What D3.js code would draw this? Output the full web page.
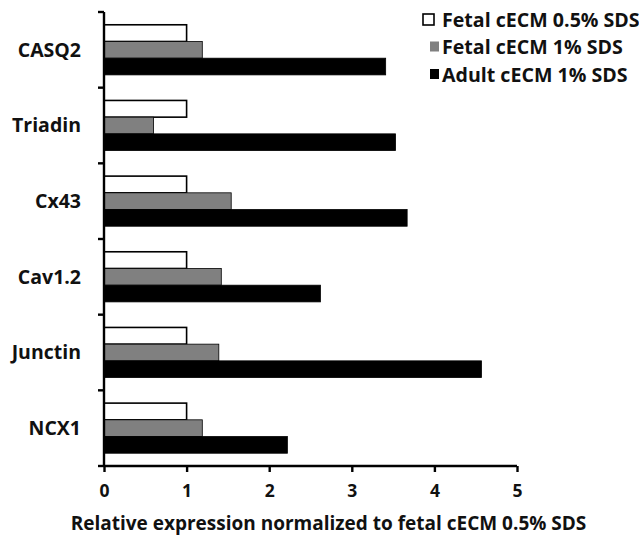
<!DOCTYPE html>
<html><head><meta charset="utf-8">
<script src="https://cdn.jsdelivr.net/npm/d3@7"></script>
<style>body{margin:0;background:#fff}svg{display:block}text{font-family:"Open Sans",Lato,sans-serif;font-weight:bold;fill:#111}</style>
</head><body>
<script>
const categories = ["CASQ2","Triadin","Cx43","Cav1.2","Junctin","NCX1"];
const seriesNames = ["Fetal cECM 0.5% SDS","Fetal cECM 1% SDS","Adult cECM 1% SDS"];
const fetal05 = [1.0, 1.0, 1.0, 1.0, 1.0, 1.0];
const fetal1 = [1.19, 0.60, 1.54, 1.42, 1.39, 1.19];
const adult1 = [3.41, 3.53, 3.67, 2.62, 4.57, 2.22];
const xTicks = [0,1,2,3,4,5];
const seriesColors = ["#ffffff","#808080","#000000"];
const xLabel = "Relative expression normalized to fetal cECM 0.5% SDS";

const W=639,H=537, m={left:104,top:12,right:122,bottom:71};
const svg=d3.select("body").append("svg").attr("width",W).attr("height",H);
const x=d3.scaleLinear().domain([0,5]).range([m.left,W-m.right]);
const y=d3.scaleBand().domain(categories).range([m.top,H-m.bottom]).padding(0);
const ys=d3.scaleBand().domain(d3.range(3)).range([0,y.bandwidth()]).paddingInner(0).paddingOuter(0.765);
const seriesVals=[fetal05,fetal1,adult1];

const g=svg.append("g");
categories.forEach((c,i)=>{
  seriesVals.forEach((vals,s)=>{
    g.append("rect")
     .attr("x",x(0)).attr("y",y(c)+ys(s))
     .attr("width",x(vals[i])-x(0)).attr("height",ys.bandwidth())
     .attr("fill",seriesColors[s])
     .attr("stroke","#000").attr("stroke-width",s===0?1.6:0.8);
  });
});

// y axis
const yAxisG=svg.append("g");
yAxisG.append("line").attr("x1",x(0)).attr("x2",x(0)).attr("y1",y.range()[0]).attr("y2",y.range()[1]).attr("stroke","#000").attr("stroke-width",2.4);
const bounds=categories.map(c=>y(c)).concat([y.range()[1]]);
bounds.forEach(b=>yAxisG.append("line").attr("x1",x(0)-6).attr("x2",x(0)).attr("y1",b).attr("y2",b).attr("stroke","#000").attr("stroke-width",2.4));
categories.forEach(c=>yAxisG.append("text").attr("x",81).attr("y",y(c)+y.bandwidth()/2).attr("dy","0.35em").attr("text-anchor","end").style("font-size","19.5px").text(c));

// x axis
const xAxis=d3.axisBottom(x).tickValues(xTicks).tickSize(6).tickFormat(d3.format("d"));
const xg=svg.append("g").attr("transform",`translate(0,${H-m.bottom})`).call(xAxis);
xg.select(".domain").attr("stroke","#000").attr("stroke-width",2.4).attr("d",`M${x(0)},0H${x(5)}`);
xg.selectAll(".tick line").attr("stroke","#000").attr("stroke-width",2.4);
xg.selectAll(".tick text").attr("y",19).style("font-size","17.5px").style("font-family","Open Sans").style("font-weight","bold").attr("fill","#111");

svg.append("text").attr("x",(70+587)/2).attr("y",530).attr("text-anchor","middle").style("font-size","19px").text(xLabel);

// legend
const lg=svg.append("g");
seriesNames.forEach((n,i)=>{
  const cy=20+i*27.5;
  if(i===0){
    lg.append("rect").attr("x",423).attr("y",cy-6).attr("width",11).attr("height",11)
      .attr("fill",seriesColors[i]).attr("stroke","#000").attr("stroke-width",1.6);
  } else {
    lg.append("rect").attr("x",430).attr("y",cy-6).attr("width",9).attr("height",10)
      .attr("fill",seriesColors[i]);
  }
  lg.append("text").attr("x",442).attr("y",cy).attr("dy","0.35em").style("font-size","19.6px").text(n);
});
</script>
</body></html>
